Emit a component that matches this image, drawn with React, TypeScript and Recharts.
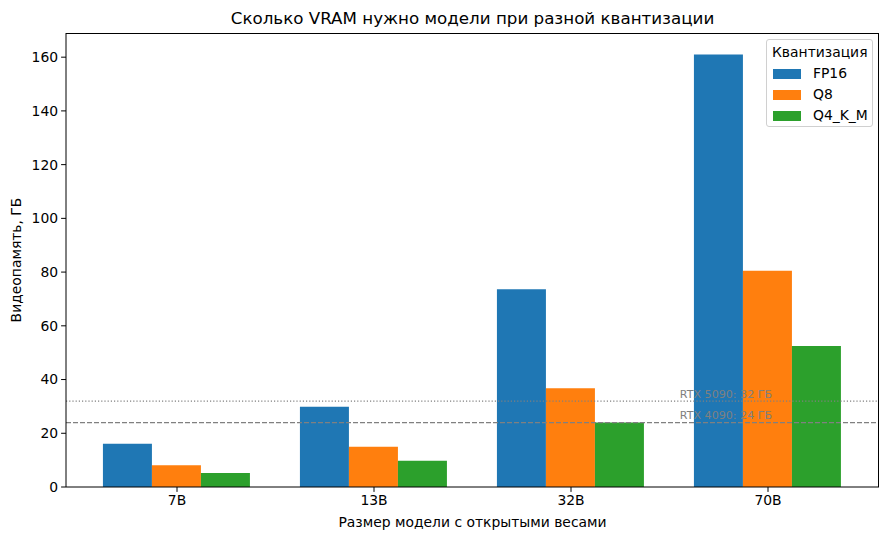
import React from "react";
import { BarChart, Bar, XAxis, YAxis, ReferenceLine } from "recharts";

const models = ["7B", "13B", "32B", "70B"];
const fp16 = [16.1, 29.9, 73.6, 161.0];
const q8 = [8.05, 14.95, 36.8, 80.5];
const q4km = [5.25, 9.75, 24.0, 52.5];
const yTicks = [0, 20, 40, 60, 80, 100, 120, 140, 160];
const series = [
  { key: "FP16", color: "#1f77b4" },
  { key: "Q8", color: "#ff7f0e" },
  { key: "Q4_K_M", color: "#2ca02c" },
];
const gpuLines = [
  { y: 32, label: "RTX 5090: 32 ГБ", dash: "1.2 2" },
  { y: 24, label: "RTX 4090: 24 ГБ", dash: "5 2" },
];

const data = models.map((m, i) => ({ model: m, FP16: fp16[i], Q8: q8[i], Q4_K_M: q4km[i] }));

const FONT = "'DejaVu Sans', sans-serif";
const FS = 13.9;
const W = 889;
const H = 540;
const YMAX = 169;
const PLOT = { left: 66, top: 33, right: 10, bottom: 53 };

export default function App() {
  return (
    <div style={{ position: "fixed", left: 0, top: 0, width: W, height: H, background: "#fff" }}>
      <div
        style={{
          position: "absolute",
          left: PLOT.left,
          width: W - PLOT.left - PLOT.right,
          top: 7,
          height: 22,
          lineHeight: "22px",
          textAlign: "center",
          fontFamily: FONT,
          fontSize: 16.7,
          color: "#000",
        }}
      >
        Сколько VRAM нужно модели при разной квантизации
      </div>
      <BarChart
        width={W}
        height={H}
        data={data}
        margin={{ top: PLOT.top, right: PLOT.right, left: 0, bottom: 0 }}
        barCategoryGap="12.4%"
        barGap={0}
      >
        <XAxis
          dataKey="model"
          height={PLOT.bottom}
          padding={{ left: 12.5, right: 12.5 }}
          tickSize={4.9}
          tickMargin={3}
          tickLine={{ stroke: "#000" }}
          axisLine={{ stroke: "#000" }}
          tick={{ fill: "#000", fontFamily: FONT, fontSize: FS }}
          label={(p: any) => {
            const vb = p.viewBox;
            return (
              <text x={vb.x + vb.width / 2} y={vb.y + 35} textAnchor="middle" dominantBaseline="central" fontFamily={FONT} fontSize={FS} fill="#000">
                Размер модели с открытыми весами
              </text>
            );
          }}
        />
        <YAxis
          width={PLOT.left}
          domain={[0, YMAX]}
          ticks={yTicks}
          tickSize={4.9}
          tickMargin={3}
          tickLine={{ stroke: "#000" }}
          axisLine={{ stroke: "#000" }}
          tick={{ fill: "#000", fontFamily: FONT, fontSize: FS }}
          allowDataOverflow
          label={(p: any) => {
            const vb = p.viewBox;
            const cx = 16;
            const cy = vb.y + vb.height / 2;
            return (
              <text x={cx} y={cy} transform={`rotate(-90 ${cx} ${cy})`} textAnchor="middle" dominantBaseline="central" fontFamily={FONT} fontSize={FS} fill="#000">
                Видеопамять, ГБ
              </text>
            );
          }}
        />
        {gpuLines.map((g) => (
          <ReferenceLine
            key={g.label}
            y={g.y}
            stroke="#808080"
            strokeWidth={1.2}
            strokeDasharray={g.dash}
            label={(p: any) => {
              const vb = p.viewBox;
              return (
                <text x={vb.x + vb.width * 0.755} y={vb.y - 7} textAnchor="start" dominantBaseline="central" fontFamily={FONT} fontSize={11.1} fill="#808080">
                  {g.label}
                </text>
              );
            }}
          />
        ))}
        {series.map((s) => (
          <Bar key={s.key} dataKey={s.key} fill={s.color} isAnimationActive={false} />
        ))}
      </BarChart>
      <div
        style={{
          position: "absolute",
          left: PLOT.left,
          top: PLOT.top,
          width: W - PLOT.left - PLOT.right,
          height: H - PLOT.top - PLOT.bottom,
          boxSizing: "border-box",
          borderTop: "1px solid #000",
          borderRight: "1px solid #000",
          pointerEvents: "none",
        }}
      />
      <div
        style={{
          position: "absolute",
          left: 766,
          top: 39,
          width: 107,
          height: 88,
          boxSizing: "border-box",
          border: "1px solid #d0d0d0",
          borderRadius: 3,
          background: "rgba(255,255,255,0.8)",
          fontFamily: FONT,
          fontSize: FS,
          color: "#000",
        }}
      >
        <div style={{ position: "absolute", left: 5, top: 4, lineHeight: "17px" }}>Квантизация</div>
        {series.map((s, i) => (
          <div key={s.key} style={{ position: "absolute", left: 6, top: 25 + i * 21, height: 17, display: "flex", alignItems: "center" }}>
            <span style={{ display: "inline-block", width: 28, height: 10, background: s.color }} />
            <span style={{ marginLeft: 12, lineHeight: "17px", whiteSpace: "nowrap" }}>{s.key}</span>
          </div>
        ))}
      </div>
    </div>
  );
}
